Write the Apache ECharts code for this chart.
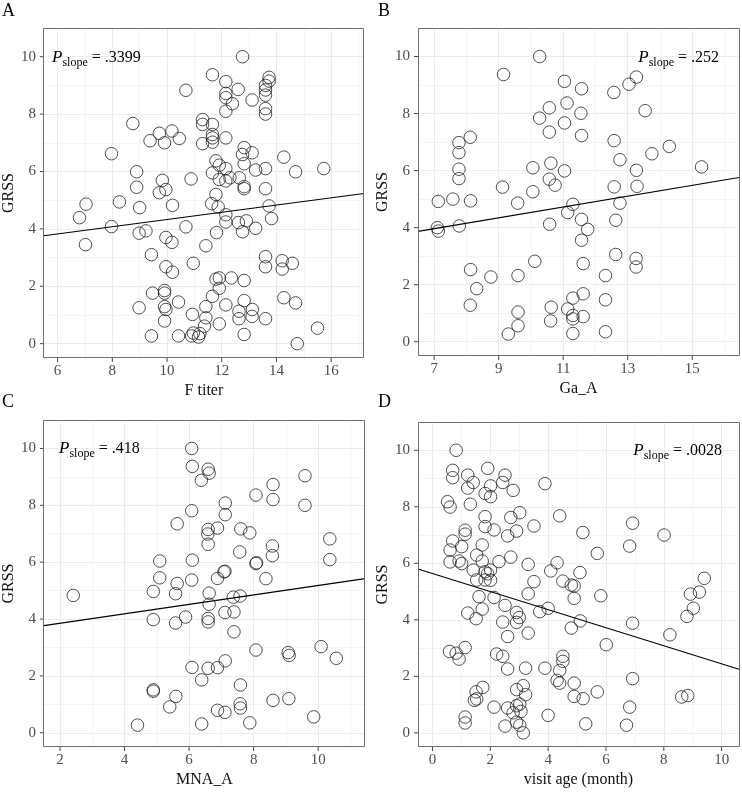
<!DOCTYPE html>
<html><head><meta charset="utf-8">
<script src="https://cdn.jsdelivr.net/npm/echarts@6/dist/echarts.min.js"></script>
<style>html,body{margin:0;padding:0;background:#fff}#c{width:742px;height:792px}</style>
</head><body><div id="c"></div><script>
// ---------- data ----------
const fTiterX = [12.76,11.66,12.15,10.69,12.15,12.15,12.6,12.39,13.11,12.15,13.6,13.6,13.6,13.73,13.73,13.6,13.6,8.75,9.72,10.18,9.38,9.91,10.45,11.3,11.3,11.66,11.66,11.66,11.66,11.3,12.15,7.97,12.82,12.76,13.11,12.82,11.79,11.91,12.15,11.66,13.24,13.6,14.27,14.7,15.73,8.89,8.89,9.83,9.96,9.72,10.88,11.91,12.15,12.3,12.64,12.82,12.82,13.6,11.79,
 7.04,8.26,9.0,10.2,11.63,11.87,13.73,6.8,12.15,12.15,12.61,12.9,13.82,7.97,10.69,8.98,9.23,11.81,12.76,13.24,7.02,9.96,10.18,11.42,9.43,13.6,13.6,14.21,14.21,14.58,10.96,9.96,10.2,11.79,11.91,12.35,12.82,11.91,9.91,9.91,9.47,11.66,14.27,14.7,12.82,10.42,8.98,9.91,9.96,11.42,12.15,12.63,13.12,10.93,11.42,13.11,12.63,13.6,9.91,11.37,11.91,15.5,9.43,10.42,10.9,10.96,11.15,11.2,12.82,14.76];
const fTiterY = [10.0,9.37,9.13,8.83,8.72,8.57,8.86,8.36,8.49,8.1,9.0,8.84,8.66,9.28,9.15,8.19,8.0,7.67,7.33,7.41,7.07,7.0,7.15,7.81,7.64,7.64,7.29,7.17,7.02,6.97,7.17,6.62,6.83,6.59,6.65,6.27,6.37,6.22,6.1,5.95,6.05,6.1,6.5,5.99,6.1,5.99,5.45,5.69,5.37,5.26,5.74,5.72,5.67,5.78,5.78,5.47,5.4,5.4,5.2,
 4.86,4.94,4.74,4.82,4.88,4.76,4.8,4.39,4.49,4.24,4.22,4.28,4.36,4.08,4.07,3.85,3.93,3.87,3.9,4.02,3.45,3.7,3.53,3.41,3.1,3.03,2.68,2.89,2.6,2.8,2.8,2.68,2.49,2.25,2.29,2.29,2.2,1.93,1.85,1.76,1.76,1.65,1.6,1.42,1.5,1.45,1.25,1.29,1.19,1.29,1.35,1.13,1.19,1.02,0.9,0.95,0.87,0.87,0.79,0.61,0.69,0.54,0.27,0.27,0.27,0.37,0.23,0.35,0.32,0.0];
const fTiterFit = [[5.5,3.76],[17.2,5.23]];

const gaAX = [10.27,9.15,11.04,11.57,12.57,13.04,13.27,11.12,10.57,10.27,11.55,13.54,11.04,10.57,11.57,12.58,7.77,8.12,7.77,14.29,13.75,12.76,10.62,10.06,11.04,13.27,15.29,7.77,7.77,10.57,10.75,9.12,10.06,12.58,13.29,
 7.13,7.58,8.13,9.59,11.3,12.76,11.14,11.57,12.63,10.58,11.76,7.78,7.1,7.13,11.57,12.63,13.26,13.26,10.12,11.62,8.13,8.76,9.6,12.31,8.32,11.62,11.3,12.31,8.12,10.63,11.14,9.6,11.3,11.3,11.62,10.61,9.6,9.3,11.3,12.31];
const gaAY = [10.0,9.37,9.13,8.87,8.74,9.03,9.28,8.37,8.2,7.84,8.01,8.1,7.67,7.35,7.23,7.05,6.98,7.17,6.63,6.85,6.59,6.38,6.26,6.1,5.99,6.01,6.13,6.05,5.72,5.7,5.49,5.42,5.26,5.43,5.45,
 4.92,5.0,4.94,4.86,4.82,4.86,4.53,4.29,4.26,4.12,3.94,4.06,4.0,3.88,3.56,3.06,2.92,2.62,2.82,2.74,2.53,2.27,2.32,2.32,1.86,1.68,1.53,1.47,1.28,1.21,1.15,1.04,0.92,0.8,0.88,0.73,0.56,0.27,0.29,0.35];
const gaAFit = [[6.5,3.87],[16.45,5.76]];

const mnaAX = [6.08,6.1,6.59,6.62,6.38,9.59,8.6,8.07,8.6,7.12,9.59,6.08,7.12,5.63,6.59,6.88,6.58,7.6,7.88,6.59,8.58,8.58,10.36,10.36,7.57,5.09,6.1,8.09,8.07,7.11,7.08,5.09,6.08,6.88,8.38,5.63,
 2.41,4.89,5.58,6.62,6.62,7.37,7.58,4.89,5.58,5.89,6.59,6.59,7.11,7.39,7.39,8.07,9.07,9.1,10.09,10.56,7.12,6.09,6.59,6.88,6.39,7.59,4.89,4.89,5.59,5.4,7.58,7.59,8.6,9.09,6.88,7.11,9.86,4.4,6.39,7.88];
const mnaAY = [10.0,9.37,9.27,9.13,8.88,9.04,8.73,8.36,8.2,8.08,8.0,7.81,7.67,7.35,7.15,7.2,6.99,7.17,7.03,6.63,6.57,6.23,6.82,6.09,6.36,6.04,6.07,5.98,5.95,5.68,5.66,5.45,5.37,5.43,5.42,5.25,
 4.83,4.97,4.89,4.91,4.52,4.77,4.81,3.98,3.86,4.07,4.02,3.9,4.23,4.25,3.55,2.91,2.82,2.72,3.03,2.62,2.53,2.3,2.27,2.29,1.86,1.68,1.51,1.46,1.28,0.91,1.02,0.87,1.14,1.2,0.79,0.72,0.56,0.27,0.31,0.35];
const mnaAFit = [[1.5,3.77],[11.45,5.42]];

const visitAgeX = [0.82,0.7,0.7,1.22,1.41,1.22,1.91,2.51,2.43,2.01,1.82,2.01,2.79,3.89,0.52,0.61,1.31,1.82,2.71,3.02,4.4,1.82,2.13,3.51,1.13,1.13,2.91,2.6,5.2,6.92,8.01,0.7,0.61,1.01,1.72,6.82,5.7,0.61,0.92,1.01,1.53,1.72,2.71,2.3,3.31,4.31,1.41,1.82,1.91,2.01,4.09,5.1,1.53,1.82,2.01,3.51,4.51,4.8,4.9,9.4,
 1.61,2.13,3.31,4.9,5.82,8.92,9.23,2.51,1.72,1.22,1.51,2.91,3.0,3.71,4.0,9.02,8.8,2.43,2.91,5.11,4.8,6.92,3.31,2.6,8.21,6.01,0.59,0.82,1.13,0.92,2.22,2.43,4.51,4.51,2.6,3.22,3.89,4.4,4.31,4.4,4.9,6.92,1.74,1.51,3.14,2.91,3.22,4.9,5.21,5.7,8.62,8.83,1.45,1.53,2.13,2.6,2.91,3.02,3.06,2.79,6.82,4.0,1.13,1.13,2.91,3.02,2.51,3.14,5.3,6.71];
const visitAgeY = [10.0,9.29,9.03,9.12,8.86,8.66,9.36,9.12,8.86,8.74,8.47,8.36,8.58,8.82,8.18,7.99,8.09,7.65,7.62,7.79,7.68,7.3,7.18,7.32,7.17,7.03,7.14,6.97,7.09,7.42,7.0,6.79,6.47,6.59,6.65,6.61,6.35,6.05,6.08,5.99,6.29,6.08,6.22,6.06,5.96,6.02,5.76,5.7,5.63,5.76,5.73,5.67,5.41,5.41,5.4,5.35,5.37,5.23,5.2,5.47,
 4.82,4.79,4.92,4.76,4.85,4.91,4.98,4.51,4.38,4.24,4.04,4.26,4.08,4.29,4.41,4.41,4.12,3.92,3.91,3.96,3.71,3.88,3.53,3.41,3.47,3.12,2.88,2.82,3.02,2.61,2.79,2.71,2.71,2.53,2.26,2.29,2.29,2.21,1.86,1.76,1.76,1.92,1.61,1.45,1.67,1.53,1.35,1.29,1.21,1.45,1.27,1.32,1.15,1.2,0.91,0.88,0.96,1.02,0.76,0.71,0.91,0.62,0.56,0.35,0.38,0.27,0.24,0.0,0.32,0.27];
const visitAgeFit = [[-0.5,5.8],[10.6,2.25]];

const yTicks = [0,2,4,6,8,10];
const xTicksA = [6,8,10,12,14,16];
const xTicksB = [7,9,11,13,15];
const xTicksC = [2,4,6,8,10];
const xTicksD = [0,2,4,6,8,10];
const xNames = ['F titer','Ga_A','MNA_A','visit age (month)'];
const yName = 'GRSS';
const letters = ['A','B','C','D'];
const pValues = ['.3399','.252','.418','.0028'];

// ---------- layout / style ----------
const FONT = 'Liberation Serif';
const panels = [
  {grid:{left:43,top:28,width:321,height:330}, xMin:5.5, xMax:17.2, xs:fTiterX, ys:fTiterY, fit:fTiterFit, ticks:xTicksA, pAlign:'left', pX:52, pY:57.5, lx:2, ly:11},
  {grid:{left:418,top:28,width:322,height:328}, xMin:6.5, xMax:16.45, xs:gaAX, ys:gaAY, fit:gaAFit, ticks:xTicksB, pAlign:'right', pX:719, pY:57.5, lx:378, ly:11},
  {grid:{left:43,top:420,width:322,height:327}, xMin:1.5, xMax:11.45, xs:mnaAX, ys:mnaAY, fit:mnaAFit, ticks:xTicksC, pAlign:'left', pX:59, pY:449, lx:2, ly:402},
  {grid:{left:418,top:422,width:322,height:325}, xMin:-0.5, xMax:10.6, xs:visitAgeX, ys:visitAgeY, fit:visitAgeFit, ticks:xTicksD, pAlign:'right', pX:722, pY:451, lx:378, ly:402}
];
const splitColors = ['rgba(0,0,0,0)','#ebebeb','rgba(0,0,0,0)','#f4f4f4'];
const labelColor = '#4d4d4d';
const tickColor = '#444';

const grids = [], xAxes = [], yAxes = [], series = [], graphics = [];
panels.forEach((p, i) => {
  grids.push(Object.assign({containLabel:false, show:false}, p.grid));
  xAxes.push({
    type:'value', gridIndex:i, min:p.xMin, max:p.xMax, interval:0.5,
    name:xNames[i], nameLocation:'middle', nameGap:25,
    nameTextStyle:{fontFamily:FONT, fontSize:16, color:'#111'},
    axisLine:{show:false, onZero:false}, axisTick:{show:false},
    axisLabel:{margin:0, formatter:v => p.ticks.includes(v) ? '{t|}\n{v|' + v + '}' : '',
      rich:{t:{width:1, height:4, backgroundColor:tickColor, align:'center'},
            v:{fontFamily:FONT, fontSize:15, color:labelColor, align:'center', padding:[2,0,0,0]}}},
    splitLine:{show:true, showMinLine:true, showMaxLine:true, lineStyle:{color:splitColors, width:1}}
  });
  yAxes.push({
    type:'value', gridIndex:i, min:-0.5, max:11, interval:0.5,
    name:yName, nameLocation:'middle', nameGap:26, nameRotate:90,
    nameTextStyle:{fontFamily:FONT, fontSize:16, color:'#111'},
    axisLine:{show:false, onZero:false}, axisTick:{show:false},
    axisLabel:{margin:0, formatter:v => yTicks.includes(v) ? '{v|' + v + '}{t|}' : '',
      rich:{t:{width:4, height:1, backgroundColor:tickColor},
            v:{fontFamily:FONT, fontSize:15, color:labelColor, padding:[0,4,0,0]}}},
    splitLine:{show:true, showMinLine:true, showMaxLine:true, lineStyle:{color:splitColors, width:1}}
  });
  series.push({
    type:'scatter', xAxisIndex:i, yAxisIndex:i, z:3,
    data:p.xs.map((x, k) => [x, p.ys[k]]),
    symbol:'circle', symbolSize:12.5,
    itemStyle:{color:'rgba(0,0,0,0)', borderColor:'#222', borderWidth:0.8, opacity:1},
    emphasis:{disabled:true}, silent:true
  });
  series.push({
    type:'line', xAxisIndex:i, yAxisIndex:i, z:4,
    data:p.fit, showSymbol:false, symbol:'none', clip:true,
    lineStyle:{color:'#000', width:1.1}, silent:true
  });
  const g = p.grid;
  graphics.push({type:'rect', z:100, silent:true,
    shape:{x:g.left + 0.5, y:g.top + 0.5, width:g.width - 1, height:g.height - 1},
    style:{fill:'none', stroke:'#6e6e6e', lineWidth:1}});
  graphics.push({type:'text', z:100, silent:true, x:p.lx, y:p.ly,
    style:{text:letters[i], font:'18px "' + FONT + '"', fill:'#000', align:'left', verticalAlign:'middle'}});
  graphics.push({type:'text', z:100, silent:true, x:p.pX, y:p.pY,
    style:{text:'{p|P}{s|slope}{e| = ' + pValues[i] + '}', align:p.pAlign, verticalAlign:'middle',
      rich:{p:{fontFamily:FONT, fontStyle:'italic', fontSize:17, lineHeight:22, fill:'#000'},
            s:{fontFamily:FONT, fontSize:12, lineHeight:13, verticalAlign:'bottom', fill:'#000'},
            e:{fontFamily:FONT, fontSize:16, lineHeight:22, fill:'#000'}}}});
});

const chart = echarts.init(document.getElementById('c'), null, {renderer:'canvas'});
chart.setOption({
  animation:false, backgroundColor:'#fff',
  grid:grids, xAxis:xAxes, yAxis:yAxes, series:series, graphic:graphics
});
</script></body></html>
